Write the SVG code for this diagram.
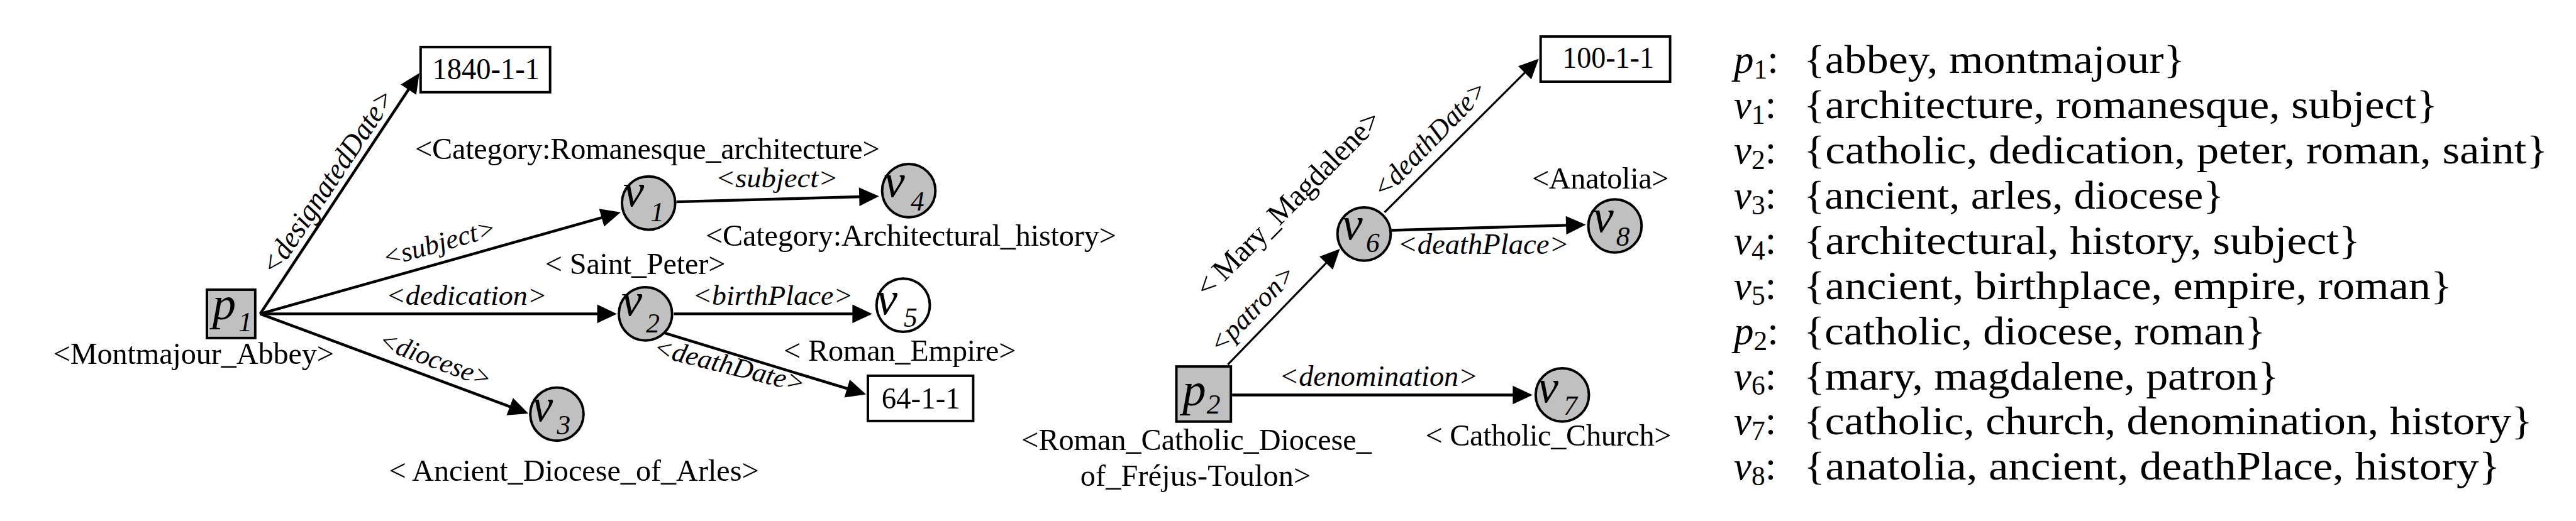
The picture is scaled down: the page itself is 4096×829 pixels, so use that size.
<svg xmlns="http://www.w3.org/2000/svg" width="4096" height="829" viewBox="0 0 4096 829">
<style>
.nl{font-family:"Liberation Serif","Times New Roman",serif;font-size:49px;fill:#000}
.el{font-family:"Liberation Serif","Times New Roman",serif;font-style:italic;fill:#000}
.mi{font-family:"Liberation Serif","Times New Roman",serif;font-style:italic;font-size:76px;fill:#000}
.sb{font-family:"Liberation Serif","Times New Roman",serif;font-style:italic;font-size:44px;fill:#000}
.lit{font-family:"Liberation Serif","Times New Roman",serif;font-size:50px;fill:#000}
.ls{font-family:"Liberation Serif","Times New Roman",serif;font-size:64px;fill:#000}
.lm{font-family:"Liberation Serif","Times New Roman",serif;font-size:64px;font-style:italic;fill:#000}
.lsub{font-family:"Liberation Serif","Times New Roman",serif;font-size:44px;fill:#000}
.ent{fill:#c0c0c0;stroke:#000;stroke-width:4}
.val{fill:#fff;stroke:#000;stroke-width:4}
.e{stroke:#000;fill:none;stroke-width:4.5}
.t{stroke-width:3.2}
</style>
<defs>
<marker id="ah" markerUnits="userSpaceOnUse" markerWidth="34" markerHeight="32" refX="12" refY="15" orient="auto" overflow="visible">
<path d="M0,0 L32,15 L0,30 z" fill="#000"/>
</marker>
</defs>
<g transform="scale(0.985)">
<g id="connectors">
<line class="e" x1="420" y1="507" x2="665.97" y2="134.69" marker-end="url(#ah)"/>
<line class="e" x1="420" y1="507" x2="982.75" y2="348.42" marker-end="url(#ah)"/>
<line class="e" x1="420" y1="507" x2="976" y2="507" marker-end="url(#ah)"/>
<line class="e" x1="420" y1="507" x2="834.26" y2="661.03" marker-end="url(#ah)"/>
<line class="e" x1="1092" y1="326" x2="1399" y2="317.55" marker-end="url(#ah)"/>
<line class="e" x1="1088" y1="507" x2="1388" y2="507" marker-end="url(#ah)"/>
<line class="e" x1="1073" y1="538" x2="1378.87" y2="631.17" marker-end="url(#ah)"/>
<line class="e t" x1="1982" y1="589" x2="2149.09" y2="416.37" marker-end="url(#ah)"/>
<line class="e" x1="1989" y1="638" x2="2454" y2="638" marker-end="url(#ah)"/>
<line class="e t" x1="2235" y1="343" x2="2469.83" y2="109.11" marker-end="url(#ah)"/>
<line class="e" x1="2246" y1="372" x2="2540" y2="363.57" marker-end="url(#ah)"/>
<text class="el" font-size="48" text-anchor="middle" textLength="350" lengthAdjust="spacingAndGlyphs" transform="translate(542,302) rotate(-56.3)">&lt;designatedDate&gt;</text>
<text class="el" font-size="44" text-anchor="middle" textLength="188" lengthAdjust="spacingAndGlyphs" transform="translate(712.5,406) rotate(-15.7)">&lt;subject&gt;</text>
<text class="el" font-size="46" text-anchor="middle" textLength="260" lengthAdjust="spacingAndGlyphs" x="753" y="492">&lt;dedication&gt;</text>
<text class="el" font-size="44" text-anchor="middle" textLength="190" lengthAdjust="spacingAndGlyphs" transform="translate(698,594) rotate(20.4)">&lt;diocese&gt;</text>
<text class="el" font-size="44" text-anchor="middle" textLength="198" lengthAdjust="spacingAndGlyphs" x="1254" y="303">&lt;subject&gt;</text>
<text class="el" font-size="44" text-anchor="middle" textLength="259" lengthAdjust="spacingAndGlyphs" x="1247.5" y="492">&lt;birthPlace&gt;</text>
<text class="el" font-size="44" text-anchor="middle" textLength="250" lengthAdjust="spacingAndGlyphs" transform="translate(1174,604) rotate(14)">&lt;deathDate&gt;</text>
<text class="el" font-size="44" text-anchor="middle" textLength="180" lengthAdjust="spacingAndGlyphs" transform="translate(2032,509) rotate(-45.9)">&lt;patron&gt;</text>
<text class="el" font-size="46" text-anchor="middle" textLength="245" lengthAdjust="spacingAndGlyphs" transform="translate(2319,235) rotate(-46)">&lt;deathDate&gt;</text>
<text class="el" font-size="48" text-anchor="middle" textLength="277" lengthAdjust="spacingAndGlyphs" x="2394.5" y="410">&lt;deathPlace&gt;</text>
<text class="el" font-size="48" text-anchor="middle" textLength="321" lengthAdjust="spacingAndGlyphs" x="2225.5" y="623">&lt;denomination&gt;</text>
</g>
<g id="node-p1">
<rect class="ent" x="334" y="468" width="78" height="78"/>
<text class="mi" x="343" y="516">p</text>
<text class="sb" x="385" y="535">1</text>
<text class="nl" x="312.5" y="588" text-anchor="middle" textLength="453">&lt;Montmajour_Abbey&gt;</text>
</g>
<g id="node-1840">
<rect class="val" x="679" y="76" width="209" height="73"/>
<text class="lit" x="784.5" y="128" text-anchor="middle" textLength="173" lengthAdjust="spacingAndGlyphs">1840-1-1</text>
</g>
<g id="node-v1">
<circle class="ent" cx="1047" cy="328" r="43"/>
<text class="mi" x="1006" y="333">v</text>
<text class="sb" x="1050" y="357">1</text>
<text class="nl" x="1045" y="257" text-anchor="middle" textLength="750">&lt;Category:Romanesque_architecture&gt;</text>
</g>
<g id="node-v2">
<circle class="ent" cx="1042" cy="507" r="43"/>
<text class="mi" x="1003" y="510">v</text>
<text class="sb" x="1043" y="537">2</text>
<text class="nl" x="1025.5" y="443" text-anchor="middle" textLength="291">&lt; Saint_Peter&gt;</text>
</g>
<g id="node-v3">
<circle class="ent" cx="899" cy="669" r="43"/>
<text class="mi" x="859" y="680">v</text>
<text class="sb" x="899" y="702">3</text>
<text class="nl" x="926.5" y="777" text-anchor="middle" textLength="597">&lt; Ancient_Diocese_of_Arles&gt;</text>
</g>
<g id="node-v4">
<circle class="ent" cx="1467" cy="308" r="43"/>
<text class="mi" x="1427" y="318">v</text>
<text class="sb" x="1470" y="340">4</text>
<text class="nl" x="1470.5" y="397" text-anchor="middle" textLength="663">&lt;Category:Architectural_history&gt;</text>
</g>
<g id="node-v5">
<circle class="val" cx="1458" cy="493" r="43"/>
<text class="mi" x="1415" y="508">v</text>
<text class="sb" x="1459" y="528">5</text>
<text class="nl" x="1452.5" y="583" text-anchor="middle" textLength="375">&lt; Roman_Empire&gt;</text>
</g>
<g id="node-64">
<rect class="val" x="1401" y="607" width="170" height="73"/>
<text class="lit" x="1486.5" y="660" text-anchor="middle" textLength="127" lengthAdjust="spacingAndGlyphs">64-1-1</text>
</g>
<g id="node-p2">
<rect class="ent" x="1899" y="592" width="88" height="89"/>
<text class="mi" x="1909" y="655">p</text>
<text class="sb" x="1948" y="668">2</text>
<text class="nl" x="1931.5" y="727" text-anchor="middle" textLength="565">&lt;Roman_Catholic_Diocese_</text>
<text class="nl" x="1930" y="785" text-anchor="middle" textLength="372">of_Fréjus-Toulon&gt;</text>
</g>
<g id="node-v6">
<circle class="ent" cx="2202" cy="378" r="43"/>
<text class="mi" x="2166" y="387">v</text>
<text class="sb" x="2205" y="407">6</text>
<text class="nl" text-anchor="middle" textLength="402" transform="translate(2091,340) rotate(-45.3)">&lt; Mary_Magdalene&gt;</text>
</g>
<g id="node-100">
<rect class="val" x="2487" y="59" width="209" height="73"/>
<text class="lit" x="2596" y="110" text-anchor="middle" textLength="148" lengthAdjust="spacingAndGlyphs">100-1-1</text>
</g>
<g id="node-v7">
<circle class="ent" cx="2522" cy="638" r="43"/>
<text class="mi" x="2482" y="650">v</text>
<text class="sb" x="2524" y="670">7</text>
<text class="nl" x="2499.5" y="720" text-anchor="middle" textLength="397">&lt; Catholic_Church&gt;</text>
</g>
<g id="node-v8">
<circle class="ent" cx="2607" cy="365" r="43"/>
<text class="mi" x="2571" y="375">v</text>
<text class="sb" x="2609" y="397">8</text>
<text class="nl" x="2583.5" y="305" text-anchor="middle" textLength="221">&lt;Anatolia&gt;</text>
</g>
<g id="legend">
<text class="lm" x="2799" y="118">p<tspan class="lsub" font-style="normal" dy="9">1</tspan><tspan font-style="normal" dy="-9">:</tspan></text>
<text class="ls" x="2912" y="118" textLength="615" lengthAdjust="spacingAndGlyphs">{abbey, montmajour}</text>
<text class="lm" x="2799" y="191">v<tspan class="lsub" font-style="normal" dy="9">1</tspan><tspan font-style="normal" dy="-9">:</tspan></text>
<text class="ls" x="2912" y="191" textLength="1023" lengthAdjust="spacingAndGlyphs">{architecture, romanesque, subject}</text>
<text class="lm" x="2799" y="264">v<tspan class="lsub" font-style="normal" dy="9">2</tspan><tspan font-style="normal" dy="-9">:</tspan></text>
<text class="ls" x="2912" y="264" textLength="1201" lengthAdjust="spacingAndGlyphs">{catholic, dedication, peter, roman, saint}</text>
<text class="lm" x="2799" y="337">v<tspan class="lsub" font-style="normal" dy="9">3</tspan><tspan font-style="normal" dy="-9">:</tspan></text>
<text class="ls" x="2912" y="337" textLength="678" lengthAdjust="spacingAndGlyphs">{ancient, arles, diocese}</text>
<text class="lm" x="2799" y="410">v<tspan class="lsub" font-style="normal" dy="9">4</tspan><tspan font-style="normal" dy="-9">:</tspan></text>
<text class="ls" x="2912" y="410" textLength="898" lengthAdjust="spacingAndGlyphs">{architectural, history, subject}</text>
<text class="lm" x="2799" y="483">v<tspan class="lsub" font-style="normal" dy="9">5</tspan><tspan font-style="normal" dy="-9">:</tspan></text>
<text class="ls" x="2912" y="483" textLength="1046" lengthAdjust="spacingAndGlyphs">{ancient, birthplace, empire, roman}</text>
<text class="lm" x="2799" y="556">p<tspan class="lsub" font-style="normal" dy="9">2</tspan><tspan font-style="normal" dy="-9">:</tspan></text>
<text class="ls" x="2912" y="556" textLength="745" lengthAdjust="spacingAndGlyphs">{catholic, diocese, roman}</text>
<text class="lm" x="2799" y="629">v<tspan class="lsub" font-style="normal" dy="9">6</tspan><tspan font-style="normal" dy="-9">:</tspan></text>
<text class="ls" x="2912" y="629" textLength="767" lengthAdjust="spacingAndGlyphs">{mary, magdalene, patron}</text>
<text class="lm" x="2799" y="702">v<tspan class="lsub" font-style="normal" dy="9">7</tspan><tspan font-style="normal" dy="-9">:</tspan></text>
<text class="ls" x="2912" y="702" textLength="1176" lengthAdjust="spacingAndGlyphs">{catholic, church, denomination, history}</text>
<text class="lm" x="2799" y="775">v<tspan class="lsub" font-style="normal" dy="9">8</tspan><tspan font-style="normal" dy="-9">:</tspan></text>
<text class="ls" x="2912" y="775" textLength="1124" lengthAdjust="spacingAndGlyphs">{anatolia, ancient, deathPlace, history}</text>
</g>
</g>
</svg>
